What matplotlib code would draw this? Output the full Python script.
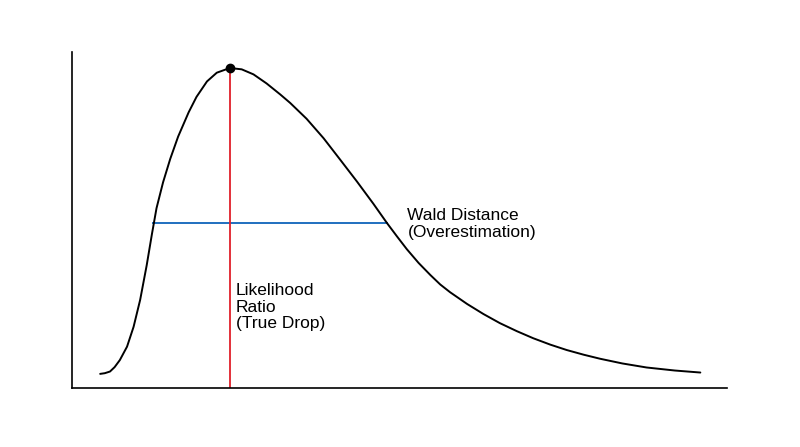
import matplotlib
matplotlib.use("Agg")
import matplotlib.pyplot as plt

plt.rcParams["font.family"] = ["Liberation Sans", "DejaVu Sans"]

# curve (x: 0..10, y: 0..1)
curve_x = [0.43, 0.50, 0.58, 0.65, 0.73, 0.84, 0.94, 1.04, 1.14, 1.22, 1.29, 1.39,
           1.50, 1.62, 1.78, 1.90, 2.06, 2.21, 2.41, 2.59, 2.77, 2.97, 3.18, 3.33,
           3.58, 3.84, 4.09, 4.35, 4.60, 4.81, 4.96, 5.11, 5.29, 5.47, 5.62, 5.77,
           6.03, 6.28, 6.53, 6.79, 7.04, 7.30, 7.55, 7.81, 8.06, 8.40, 8.77, 9.20, 9.59]
curve_y = [0.042, 0.044, 0.049, 0.062, 0.083, 0.123, 0.182, 0.262, 0.365, 0.458,
           0.535, 0.612, 0.682, 0.748, 0.820, 0.866, 0.912, 0.938, 0.952, 0.948,
           0.933, 0.906, 0.873, 0.848, 0.801, 0.743, 0.680, 0.614, 0.548, 0.490,
           0.451, 0.413, 0.372, 0.336, 0.308, 0.285, 0.250, 0.220, 0.193, 0.169,
           0.148, 0.129, 0.113, 0.099, 0.087, 0.073, 0.061, 0.052, 0.046]

peak_x, peak_y = 2.41, 0.952
wald_level = 0.49
wald_left, wald_right = 1.24, 4.81

wald_label = "Wald Distance\n(Overestimation)"
lr_label = "Likelihood\nRatio\n(True Drop)"

fig = plt.figure(figsize=(8, 4.47), dpi=100)
ax = fig.add_axes([0.09, 0.132, 0.819, 0.752])
ax.set_xlim(0, 10)
ax.set_ylim(0, 1)

ax.plot(curve_x, curve_y, color="black", lw=1.4, zorder=3,
        solid_capstyle="round", solid_joinstyle="round")
ax.plot([wald_left, wald_right], [wald_level, wald_level], color="#1f6fbf", lw=1.4, zorder=2)
ax.plot([peak_x, peak_x], [0, peak_y], color="#e0202a", lw=1.3, zorder=2)
ax.plot([peak_x], [peak_y], "o", color="black", ms=6, zorder=4)

ax.text(5.12, 0.535, wald_label, fontsize=12.5, ha="left", va="top", linespacing=1.15)
ax.text(2.50, 0.313, lr_label, fontsize=12.5, ha="left", va="top", linespacing=1.15)

for side in ("top", "right"):
    ax.spines[side].set_visible(False)
for side in ("left", "bottom"):
    ax.spines[side].set_linewidth(1.2)
ax.set_xticks([])
ax.set_yticks([])

fig.savefig("out.png", dpi=100)
